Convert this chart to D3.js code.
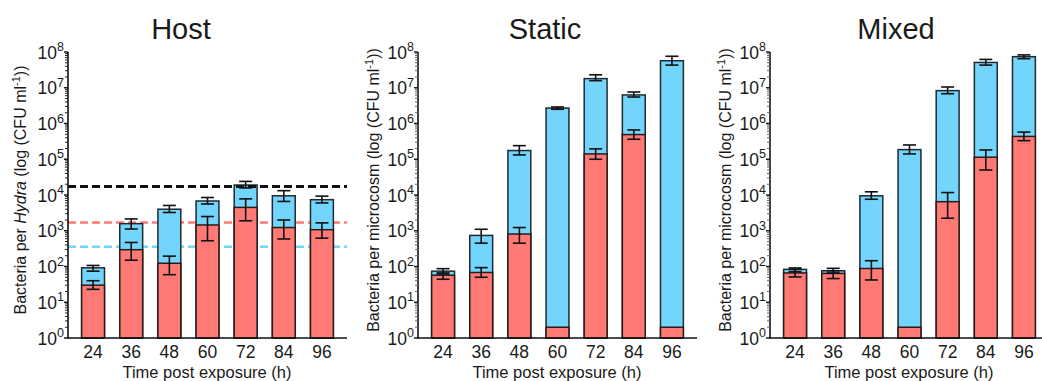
<!DOCTYPE html>
<html>
<head>
<meta charset="utf-8">
<script src="https://cdn.jsdelivr.net/npm/d3@7"></script>
<style>
  body { margin: 0; background: #fff; }
  text { font-family: "Liberation Sans", Arial, sans-serif; fill: #1a1a1a; }
</style>
</head>
<body>
<svg id="chart" width="1042" height="381"></svg>
<script>
// time points (h)
var times = ["24", "36", "48", "60", "72", "84", "96"];

// Host panel (bacteria per Hydra)
var hostBlue   = [92, 1580, 4000, 6800, 19000, 9500, 7400];
var hostBlueHi = [107, 2140, 5100, 8500, 24000, 13200, 9300];
var hostBlueLo = [74, 1120, 3240, 5600, 15800, 6600, 6000];
var hostRed    = [30, 295, 123, 1450, 4500, 1230, 1070];
var hostRedHi  = [40, 470, 195, 2500, 7800, 2000, 1660];
var hostRedLo  = [23, 150, 59, 525, 1900, 590, 620];
// dashed reference levels (black, red, blue)
var hostLevels = [17400, 1700, 355];

// Static panel (bacteria per microcosm)
var staticBlue   = [74, 740, 175000, 2.7e6, 1.8e7, 6.3e6, 5.7e7];
var staticBlueHi = [87, 1100, 240000, 2.9e6, 2.3e7, 7.6e6, 7.6e7];
var staticBlueLo = [66, 450, 132000, 2.5e6, 1.58e7, 5.5e6, 4.3e7];
var staticRed    = [57, 68, 810, 2, 141000, 490000, 2];
var staticRedHi  = [62, 93, 1230, null, 195000, 660000, null];
var staticRedLo  = [44, 50, 450, null, 100000, 363000, null];

// Mixed panel (bacteria per microcosm)
var mixedBlue   = [83, 76, 9500, 186000, 8.3e6, 5.1e7, 7.4e7];
var mixedBlueHi = [91, 89, 12300, 251000, 1.05e7, 6.2e7, 8.3e7];
var mixedBlueLo = [71, 66, 7600, 141000, 6.8e6, 4.3e7, 6.5e7];
var mixedRed    = [66, 64, 88, 2, 6500, 114000, 435000];
var mixedRedHi  = [83, 76, 145, null, 11700, 182000, 575000];
var mixedRedLo  = [51, 46, 42, null, 2240, 50000, 331000];

var decades = [0, 1, 2, 3, 4, 5, 6, 7, 8];

var blueColor = "#73d5fb";
var redColor = "#ff7a75";

var svg = d3.select("#chart");

var yScale = d3.scaleLog().domain([1, 1e8]).range([338, 52]);

var panels = [
  {title: "Host", axisX: 68, titleX: 181, labelX: 20, host: true,
   blue: hostBlue, blueHi: hostBlueHi, blueLo: hostBlueLo,
   red: hostRed, redHi: hostRedHi, redLo: hostRedLo, levels: hostLevels},
  {title: "Static", axisX: 418, titleX: 545, labelX: 373, host: false,
   blue: staticBlue, blueHi: staticBlueHi, blueLo: staticBlueLo,
   red: staticRed, redHi: staticRedHi, redLo: staticRedLo},
  {title: "Mixed", axisX: 770, titleX: 896, labelX: 725, host: false,
   blue: mixedBlue, blueHi: mixedBlueHi, blueLo: mixedBlueLo,
   red: mixedRed, redHi: mixedRedHi, redLo: mixedRedLo}
];

panels.forEach(function(p) {
  var g = svg.append("g");
  var x = d3.scaleBand().domain(times)
    .range([p.axisX + 6, p.axisX + 273])
    .paddingInner(0.4).paddingOuter(0.2);

  // title
  g.append("text")
    .attr("x", p.titleX).attr("y", 39)
    .attr("text-anchor", "middle")
    .style("font-size", "29px")
    .text(p.title);

  // dashed reference lines (behind bars)
  var levelColors = ["#111", "#ff7a75", "#73d5fb"];
  if (p.levels) {
    p.levels.forEach(function(v, i) {
      if (i === 0) return;
      g.append("line")
        .attr("x1", p.axisX).attr("x2", p.axisX + 279)
        .attr("y1", yScale(v)).attr("y2", yScale(v))
        .attr("stroke", levelColors[i])
        .attr("stroke-width", 2.5)
        .attr("stroke-dasharray", "8,4");
    });
  }

  var rows = times.map(function(t, i) {
    return {t: t, blue: p.blue[i], blueHi: p.blueHi[i], blueLo: p.blueLo[i],
            red: p.red[i], redHi: p.redHi[i], redLo: p.redLo[i]};
  });

  // blue bars (total)
  g.selectAll(".bbar").data(rows).enter().append("rect")
    .attr("x", function(d) { return x(d.t); })
    .attr("width", x.bandwidth())
    .attr("y", function(d) { return yScale(d.blue); })
    .attr("height", function(d) { return yScale(1) - yScale(d.blue); })
    .attr("fill", blueColor)
    .attr("stroke", "#1e2a30").attr("stroke-width", 1.5);

  // red bars
  g.selectAll(".rbar").data(rows).enter().append("rect")
    .attr("x", function(d) { return x(d.t); })
    .attr("width", x.bandwidth())
    .attr("y", function(d) { return yScale(d.red); })
    .attr("height", function(d) { return yScale(1) - yScale(d.red); })
    .attr("fill", redColor)
    .attr("stroke", "#2a1a1a").attr("stroke-width", 1.5);

  if (p.levels) {
    g.append("line")
      .attr("x1", p.axisX).attr("x2", p.axisX + 279)
      .attr("y1", yScale(p.levels[0])).attr("y2", yScale(p.levels[0]))
      .attr("stroke", levelColors[0])
      .attr("stroke-width", 3)
      .attr("stroke-dasharray", "8,4");
  }

  // error bars
  function errBars(hiKey, loKey) {
    var eb = g.selectAll(".eb-" + hiKey)
      .data(rows.filter(function(d) { return d[hiKey] != null; }))
      .enter().append("g")
      .attr("stroke", "#111").attr("stroke-width", 1.6);
    eb.append("line")
      .attr("x1", function(d) { return x(d.t) + x.bandwidth() / 2; })
      .attr("x2", function(d) { return x(d.t) + x.bandwidth() / 2; })
      .attr("y1", function(d) { return yScale(d[hiKey]); })
      .attr("y2", function(d) { return yScale(d[loKey]); });
    [hiKey, loKey].forEach(function(k) {
      eb.append("line")
        .attr("x1", function(d) { return x(d.t) + x.bandwidth() / 2 - 6.5; })
        .attr("x2", function(d) { return x(d.t) + x.bandwidth() / 2 + 6.5; })
        .attr("y1", function(d) { return yScale(d[k]); })
        .attr("y2", function(d) { return yScale(d[k]); });
    });
  }
  errBars("blueHi", "blueLo");
  errBars("redHi", "redLo");

  // x axis
  var xAxis = g.append("g")
    .attr("transform", "translate(0," + yScale(1) + ")")
    .call(d3.axisBottom(x).tickSize(0).tickPadding(8));
  xAxis.select(".domain").attr("d", "M" + p.axisX + ",0H" + (p.axisX + 279))
    .attr("stroke", "#111").attr("stroke-width", 1.6);
  xAxis.selectAll("text")
    .style("font-size", "17.5px")
    .style("font-family", "'Liberation Sans', Arial, sans-serif")
    .attr("fill", "#1a1a1a");

  // y axis with minor log ticks
  var yg = g.append("g");
  yg.append("line")
    .attr("x1", p.axisX).attr("x2", p.axisX)
    .attr("y1", yScale(1) + 0.8).attr("y2", yScale(1e8))
    .attr("stroke", "#111").attr("stroke-width", 1.6);
  var minor = [];
  decades.slice(0, 8).forEach(function(d) {
    for (var k = 2; k <= 9; k++) minor.push(k * Math.pow(10, d));
  });
  yg.selectAll(".minor").data(minor).enter().append("line")
    .attr("x1", p.axisX - 3).attr("x2", p.axisX)
    .attr("y1", function(v) { return yScale(v); })
    .attr("y2", function(v) { return yScale(v); })
    .attr("stroke", p.host ? "#222" : "#666").attr("stroke-width", 1);
  yg.selectAll(".major").data(decades).enter().append("line")
    .attr("x1", p.axisX - 4).attr("x2", p.axisX)
    .attr("y1", function(d) { return yScale(Math.pow(10, d)); })
    .attr("y2", function(d) { return yScale(Math.pow(10, d)); })
    .attr("stroke", "#111").attr("stroke-width", 1.4);
  var lab = yg.selectAll(".ylab").data(decades).enter().append("text")
    .attr("x", p.axisX - 4)
    .attr("y", function(d) { return yScale(Math.pow(10, d)) + 6.5; })
    .attr("text-anchor", "end")
    .style("font-size", "17.5px");
  lab.append("tspan").text("10");
  lab.append("tspan").attr("dy", -7.5).style("font-size", "12.5px")
    .text(function(d) { return d; });

  // y axis title
  var yt = g.append("text")
    .attr("transform", "translate(" + (p.labelX + 5.5) + "," + 190 + ") rotate(-90)")
    .attr("text-anchor", "middle")
    .style("font-size", "16px");
  if (p.host) {
    yt.append("tspan").text("Bacteria per ");
    yt.append("tspan").style("font-style", "italic").text("Hydra");
    yt.append("tspan").text(" (log (CFU ml");
  } else {
    yt.append("tspan").text("Bacteria per microcosm (log (CFU ml");
  }
  yt.append("tspan").attr("dy", -6).style("font-size", "11px").text("-1");
  yt.append("tspan").attr("dy", 6).text("))");

  // x axis title
  g.append("text")
    .attr("x", p.axisX + 139).attr("y", 378)
    .attr("text-anchor", "middle")
    .style("font-size", "16.5px")
    .text("Time post exposure (h)");
});
</script>
</body>
</html>
